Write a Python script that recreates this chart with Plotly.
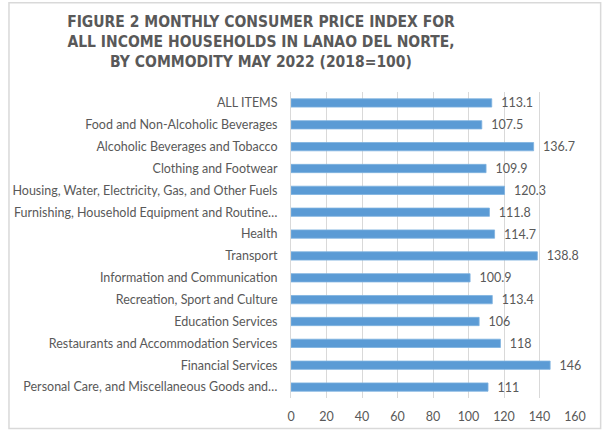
import plotly.graph_objects as go

categories = [
    "ALL ITEMS",
    "Food and Non-Alcoholic Beverages",
    "Alcoholic Beverages and Tobacco",
    "Clothing and Footwear",
    "Housing, Water, Electricity, Gas, and Other Fuels",
    "Furnishing, Household Equipment and Routine…",
    "Health",
    "Transport",
    "Information and Communication",
    "Recreation, Sport and Culture",
    "Education Services",
    "Restaurants and Accommodation Services",
    "Financial Services",
    "Personal Care, and Miscellaneous Goods and…",
]
values = [113.1, 107.5, 136.7, 109.9, 120.3, 111.8, 114.7, 138.8, 100.9, 113.4, 106, 118, 146, 111]
x_ticks = [0, 20, 40, 60, 80, 100, 120, 140, 160]

W, H = 602, 436
L, R, T, B = 287, 27, 92, 32
pw, ph = W - L - R, H - T - B

fig = go.Figure(go.Bar(
    x=values, y=categories, orientation="h",
    marker=dict(color="#5B9BD5", line=dict(color="#7FB2E0", width=0.8)),
    width=0.38,
    text=[f"{v:g}" for v in values],
    texttemplate="  %{text}",
    textposition="outside",
    constraintext="none",
    cliponaxis=False,
    textfont=dict(family="Lato", size=12.5, color="#595959"),
))

fig.update_layout(
    width=W, height=H,
    margin=dict(l=L, r=R, t=T, b=B),
    paper_bgcolor="white", plot_bgcolor="white",
    showlegend=False,
    title=dict(
        text="FIGURE 2 MONTHLY CONSUMER PRICE INDEX FOR<br>ALL INCOME HOUSEHOLDS IN LANAO DEL NORTE,<br>BY COMMODITY MAY 2022 (2018=100)",
        x=261 / W, xanchor="center", xref="container",
        y=1 - 27 / H, yanchor="top", yref="container",
        font=dict(family="Liberation Sans Narrow, DejaVu Sans Condensed, sans-serif", size=15.5, color="#595959", weight="bold"),
    ),
    xaxis=dict(
        range=[0, 160], tickvals=x_ticks, showgrid=True, gridcolor="#D9D9D9", gridwidth=1,
        zeroline=False, showline=False,
        tickfont=dict(family="Lato", size=12.5, color="#595959"),
        ticks="outside", ticklen=7, tickcolor="rgba(0,0,0,0)",
    ),
    yaxis=dict(
        autorange="reversed", showline=True, linecolor="#D9D9D9", linewidth=1,
        tickfont=dict(family="Lato", size=12.5, color="#595959"),
        ticks="outside", ticklen=10, tickcolor="rgba(0,0,0,0)",
    ),
    shapes=[dict(
        type="rect", xref="paper", yref="paper",
        x0=-(L - 1) / pw, x1=1 + (R - 1) / pw,
        y0=-(B - 1) / ph, y1=1 + (T - 1) / ph,
        line=dict(color="#D9D9D9", width=1.5), fillcolor="rgba(0,0,0,0)", layer="below",
    )],
)

fig.write_html("out.html", config={"displayModeBar": False},
               post_script="document.body.style.margin='0';")
